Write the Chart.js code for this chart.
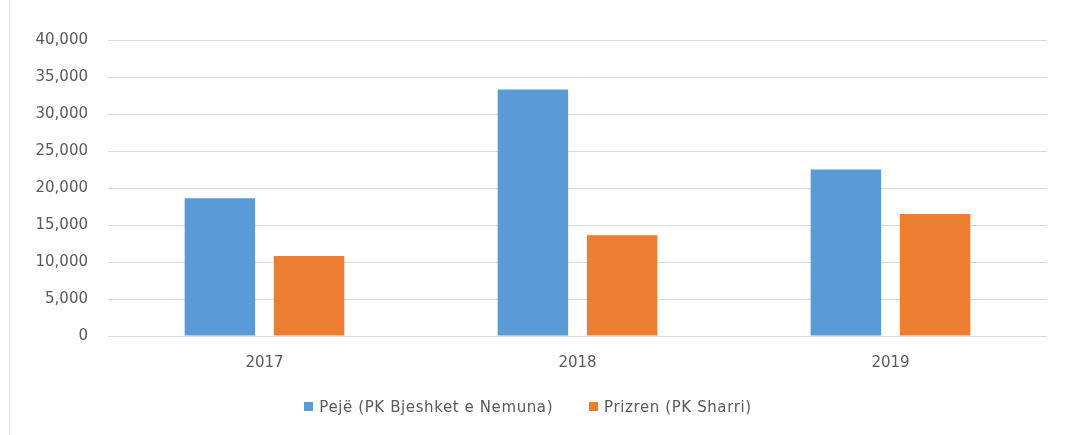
<!DOCTYPE html>
<html>
<head>
<meta charset="utf-8">
<script src="https://cdn.jsdelivr.net/npm/chart.js@4.4.0/dist/chart.umd.min.js"></script>
<style>
    html, body { margin: 0; padding: 0; background: #fff; }
    #wrap { position: relative; width: 1066px; height: 435px; }
    #frame { position: absolute; left: 9px; top: 0; width: 1px; height: 435px; background: #e3e3e3; }
    #legend { position: absolute; left: 0; top: 398px; width: 1056px; text-align: center;
              font-family: 'DejaVu Sans'; font-size: 15px; color: #595959; white-space: nowrap;
              letter-spacing: 0.6px; }
    #legend span.item { display: inline-block; margin: 0 18px; }
    #legend span.box { display: inline-block; width: 9px; height: 9px; margin-right: 6px; vertical-align: 1px; }
</style>
</head>
<body>
<div id="wrap">
    <canvas id="graphCanvas" width="1066" height="435"></canvas>
    <div id="frame"></div>
    <div id="legend"></div>
</div>
<script>
var years = ['2017', '2018', '2019'];
var seriesNames = ['Pejë (PK Bjeshket e Nemuna)', 'Prizren (PK Sharri)'];
var peje = [18600, 33300, 22500];
var prizren = [10800, 13600, 16500];
var yTicks = [0, 5000, 10000, 15000, 20000, 25000, 30000, 35000, 40000];

var colors = ['#5b9bd5', '#ed7d31'];
var textColor = '#595959';
var gridColor = '#d9d9d9';
var tickFont = { family: "'DejaVu Sans'", size: 15 };

function showGraph() {
    var chartdata = {
        labels: years,
        datasets: [
            {
                label: seriesNames[0],
                backgroundColor: colors[0],
                data: peje,
                barPercentage: 0.79,
                categoryPercentage: 0.57
            },
            {
                label: seriesNames[1],
                backgroundColor: colors[1],
                data: prizren,
                barPercentage: 0.79,
                categoryPercentage: 0.57
            }
        ]
    };

    var chart = new Chart(document.getElementById('graphCanvas'), {
        type: 'bar',
        data: chartdata,
        options: {
            responsive: false,
            animation: false,
            layout: { padding: { left: 0, right: 19, top: 40, bottom: 0 } },
            plugins: {
                tooltip: { enabled: false },
                legend: { display: false }
            },
            scales: {
                x: {
                    grid: { display: false },
                    border: { display: false },
                    afterFit: function (scale) { scale.height = 99; },
                    ticks: {
                        color: textColor,
                        padding: 10,
                        font: tickFont
                    }
                },
                y: {
                    min: 0,
                    max: 40000,
                    afterFit: function (scale) { scale.width = 108; },
                    afterBuildTicks: function (scale) {
                        scale.ticks = yTicks.map(function (v) { return { value: v }; });
                    },
                    grid: { color: gridColor, drawTicks: false },
                    border: { display: false },
                    ticks: {
                        color: textColor,
                        padding: 20,
                        font: tickFont,
                        callback: function (v) { return v.toLocaleString('en-US'); }
                    }
                }
            }
        }
    });

    // legend built from the same datasets
    var legend = document.getElementById('legend');
    chart.data.datasets.forEach(function (ds) {
        var item = document.createElement('span');
        item.className = 'item';
        var box = document.createElement('span');
        box.className = 'box';
        box.style.background = ds.backgroundColor;
        item.appendChild(box);
        item.appendChild(document.createTextNode(ds.label));
        legend.appendChild(item);
    });
}

showGraph();
</script>
</body>
</html>
